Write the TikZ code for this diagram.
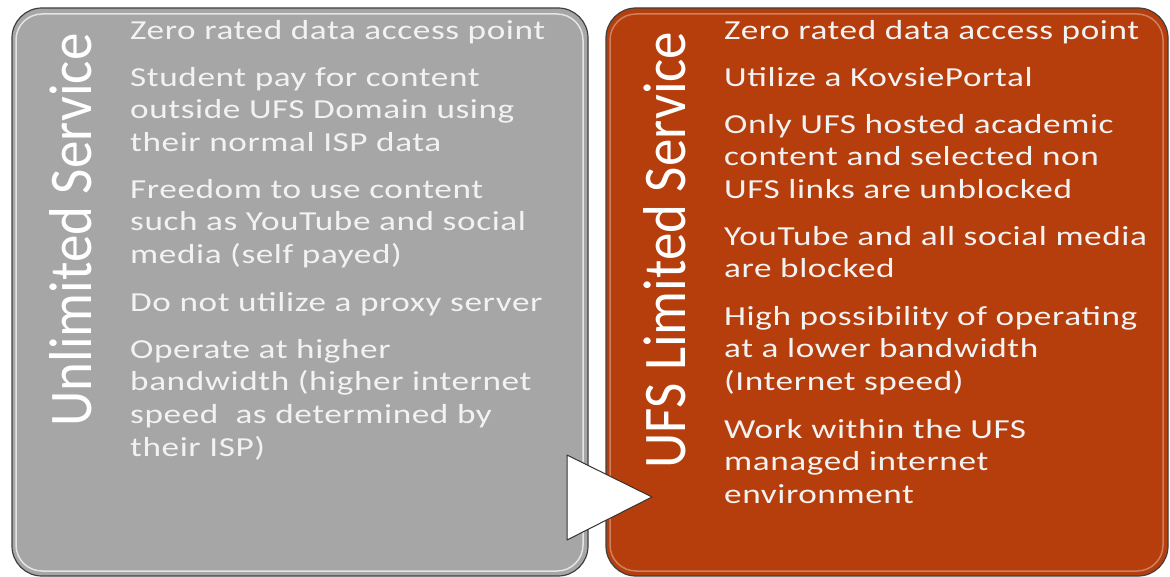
\documentclass[tikz,border=0pt]{standalone}
\usepackage{fontspec}
\setmainfont{Carlito}
\newfontfamily\itemfont[FakeStretch=1.28,LetterSpace=2.2]{Carlito}
\definecolor{boxgray}{RGB}{166,166,166}
\definecolor{boxred}{RGB}{181,62,12}
\definecolor{txt}{RGB}{242,242,242}
\begin{document}
\begin{tikzpicture}[x=1pt,y=-1pt,
  panel/.style={draw=black!75,line width=1.2pt,rounded corners=30pt},
  hilite/.style={draw=white,opacity=0.7,line width=1.5pt,rounded corners=26pt},
  title/.style={text=white,font=\fontsize{55}{55}\selectfont,rotate=90,inner sep=0pt},
  item/.style={text=txt,font=\itemfont\fontsize{27.5}{32.6}\selectfont,align=left,anchor=north west,inner sep=0pt},
  arrowtri/.style={draw=black!80,line width=1pt,fill=white}]
\useasboundingbox (0,0) rectangle (1170,577);
% panels
\draw[panel,fill=boxgray] (12,8) rectangle (588,576);
\draw[hilite] (16,14) rectangle (583,571);
\draw[panel,fill=boxred] (606,8) rectangle (1168,576);
\draw[hilite,opacity=0.35] (610,14) rectangle (1163,571);
% titles
\node[title] (t1) at (71,230) {\scalebox{1}[1.1]{Unlimited Service}};
\node[title] (t2) at (665,250) {\scalebox{1}[1.1]{UFS Limited Service}};
% left items
\node[item] (l1) at (130,20) {Zero rated data access point};
\node[item] (l2) at (130,67) {Student pay for content\\outside UFS Domain using\\their normal ISP data};
\node[item] (l3) at (130,179) {Freedom to use content\\such as YouTube and social\\media (self payed)};
\node[item] (l4) at (130,292) {Do not utilize a proxy server};
\node[item] (l5) at (130,339) {Operate at higher\\bandwidth (higher internet\\speed\ \ as determined by\\their ISP)};
% right items
\node[item] (r1) at (724,20) {Zero rated data access point};
\node[item] (r2) at (724,67) {Utilize a KovsiePortal};
\node[item] (r3) at (724,114) {Only UFS hosted academic\\content and selected non\\UFS links are unblocked};
\node[item] (r4) at (724,226) {YouTube and all social media\\are blocked};
\node[item] (r5) at (724,306) {High possibility of operating\\at a lower bandwidth\\(Internet speed)};
\node[item] (r6) at (724,419) {Work within the UFS\\managed internet\\environment};
% arrow
\coordinate (a1) at (567,455);
\coordinate (a2) at (652,497);
\coordinate (a3) at (567,540);
\draw[arrowtri,line join=round] (a1) -- (a2) -- (a3) -- cycle;
\end{tikzpicture}
\end{document}
